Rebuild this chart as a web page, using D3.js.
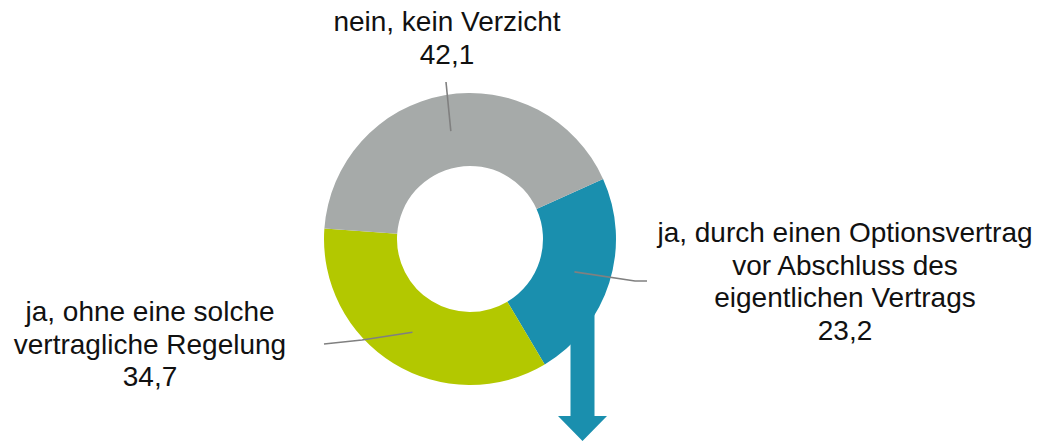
<!DOCTYPE html>
<html>
<head>
<meta charset="utf-8">
<script src="https://cdn.jsdelivr.net/npm/d3@7"></script>
<style>
  html, body { margin: 0; padding: 0; background: #fff; }
  svg { display: block; }
</style>
</head>
<body>
<div id="chart"></div>
<script>
// categories in drawing order (clockwise, starting at the teal slice)
const categories = ['ja, durch einen Optionsvertrag vor Abschluss des eigentlichen Vertrags',
                    'ja, ohne eine solche vertragliche Regelung',
                    'nein, kein Verzicht'];
const values = [23.2, 34.7, 42.1];
const labelLines = [
  ['ja, durch einen Optionsvertrag', 'vor Abschluss des', 'eigentlichen Vertrags', '23,2'],
  ['ja, ohne eine solche', 'vertragliche Regelung', '34,7'],
  ['nein, kein Verzicht', '42,1']
];
const colors = ['#1a8fae', '#b3c800', '#a6aaa9'];

const w = 1038, h = 441;
const cx = 470, cy = 239;
const outerR = 146, innerR = 73;
const start = 65.7 * Math.PI / 180;

// label layout: text anchor + leader line bend points
const labelPos = [
  { x: 845, y: 242, lead: [[635, 281], [647, 281]] },
  { x: 150, y: 321, lead: [[362, 340], [324, 344]] },
  { x: 447, y: 31,  lead: [[446, 82]] }
];
const lineH = 32.5;

const svg = d3.select('#chart').append('svg')
  .attr('width', w).attr('height', h);

const g = svg.append('g').attr('transform', `translate(${cx},${cy})`);

const pie = d3.pie().sort(null).value(d => d)
  .startAngle(start).endAngle(start + 2 * Math.PI);
const arcs = pie(values);

const arc = d3.arc().innerRadius(innerR).outerRadius(outerR);

g.selectAll('path.slice')
  .data(arcs)
  .enter().append('path')
  .attr('class', 'slice')
  .attr('d', arc)
  .attr('fill', (d, i) => colors[i]);

// arrow coming out of the teal slice
const ax = 582.5, shaftW = 24, headW = 49, headTop = 416, tip = 441, shaftTop = 305;
svg.append('path')
  .attr('d', d3.line()([
    [ax - shaftW / 2, shaftTop], [ax + shaftW / 2, shaftTop],
    [ax + shaftW / 2, headTop], [ax + headW / 2, headTop],
    [ax, tip], [ax - headW / 2, headTop],
    [ax - shaftW / 2, headTop]
  ]) + 'Z')
  .attr('fill', colors[0]);

// leader lines from slice centroids
const leader = d3.line().curve(d3.curveLinear);
arcs.forEach((d, i) => {
  const c = arc.centroid(d);
  const pts = [[cx + c[0], cy + c[1]]].concat(labelPos[i].lead);
  svg.append('path')
    .attr('d', leader(pts))
    .attr('fill', 'none')
    .attr('stroke', '#808080')
    .attr('stroke-width', 1.6);
});

// labels
labelLines.forEach((lines, i) => {
  const t = svg.append('text')
    .attr('text-anchor', 'middle')
    .attr('font-family', 'Liberation Sans, Arial, sans-serif')
    .attr('font-size', 28)
    .attr('fill', '#111');
  lines.forEach((s, j) => {
    t.append('tspan')
      .attr('x', labelPos[i].x)
      .attr('y', labelPos[i].y + j * lineH)
      .text(s);
  });
});
</script>
</body>
</html>
